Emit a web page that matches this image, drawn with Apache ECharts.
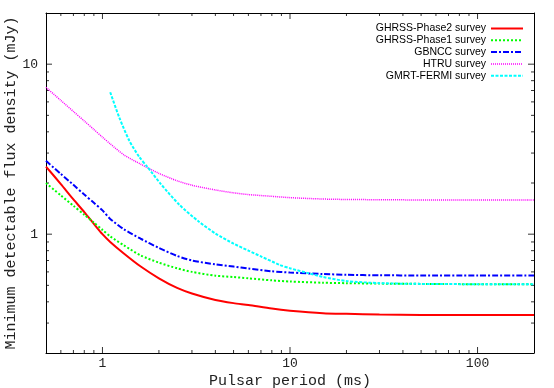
<!DOCTYPE html>
<html>
<head>
<meta charset="utf-8">
<script src="https://cdn.jsdelivr.net/npm/echarts@6/dist/echarts.min.js"></script>
<style>
  html, body { margin: 0; padding: 0; background: #fff; }
  #main { width: 554px; height: 388px; }
</style>
</head>
<body>
<div id="main"></div>
<script>
// pulsar period (ms), shared by the first four surveys
var periods = [0.5, 0.6, 0.7, 0.8, 0.9, 1.0, 1.1, 1.3, 1.6, 2, 2.5, 3, 4, 5, 6, 8, 10, 15, 20, 30, 50, 100, 200];
var ghrss2 = [2.5, 1.97, 1.60, 1.35, 1.15, 1.0, 0.9, 0.77, 0.645, 0.55, 0.483, 0.448, 0.41, 0.393, 0.383, 0.365, 0.355, 0.343, 0.34, 0.337, 0.335, 0.335, 0.335];
var ghrss1 = [2.0, 1.69, 1.47, 1.30, 1.17, 1.06, 0.97, 0.86, 0.75, 0.68, 0.63, 0.60, 0.57, 0.56, 0.55, 0.535, 0.527, 0.518, 0.515, 0.512, 0.51, 0.508, 0.508];
var gbncc = [2.7, 2.26, 1.95, 1.71, 1.53, 1.38, 1.23, 1.07, 0.94, 0.83, 0.745, 0.70, 0.665, 0.645, 0.628, 0.605, 0.595, 0.583, 0.577, 0.573, 0.572, 0.571, 0.571];
var htru = [7.3, 6.12, 5.27, 4.63, 4.13, 3.72, 3.4, 2.93, 2.58, 2.28, 2.06, 1.94, 1.82, 1.75, 1.71, 1.67, 1.64, 1.61, 1.60, 1.595, 1.59, 1.59, 1.59];
// GMRT-FERMI starts later
var fermiPeriods = [1.1, 1.23, 1.39, 1.57, 1.74, 2.05, 2.57, 3.25, 4, 5, 6, 7, 8.8, 10, 12.5, 15, 20, 30, 50, 100, 200];
var fermi = [6.84, 4.85, 3.55, 2.85, 2.48, 1.97, 1.49, 1.19, 1.01, 0.88, 0.80, 0.74, 0.66, 0.63, 0.59, 0.56, 0.53, 0.515, 0.51, 0.508, 0.508];

var seriesNames = ['GHRSS-Phase2 survey', 'GHRSS-Phase1 survey', 'GBNCC survey', 'HTRU survey', 'GMRT-FERMI survey'];

// axis ranges and tick values
var xRange = [0.5, 200];
var yRange = [0.2, 20];
var xMajor = [1, 10, 100];
var xMinor = [0.6, 0.7, 0.8, 0.9, 2, 3, 4, 5, 6, 7, 8, 9, 20, 30, 40, 50, 60, 70, 80, 90];
var yMajor = [1, 10];
var yMinor = [0.3, 0.4, 0.5, 0.6, 0.7, 0.8, 0.9, 2, 3, 4, 5, 6, 7, 8, 9];

// line styles, same order as seriesNames
var styles = [
  { color: '#ff0000', width: 2, type: 'solid' },
  { color: '#00ff00', width: 2, type: [2, 2] },
  { color: '#0000ff', width: 2, type: [6, 2, 2, 2] },
  { color: '#ff00ff', width: 1.5, type: [1, 1] },
  { color: '#00ffff', width: 2, type: [3, 1.5] }
];

var gridBox = { left: 46, right: 20, top: 13, bottom: 35 };

function pairs(xs, ys) {
  var out = [];
  for (var i = 0; i < xs.length; i++) {
    out.push([xs[i], ys[i]]);
  }
  return out;
}

var monoFont = '"Liberation Mono", "DejaVu Sans Mono", monospace';

// log axis; only the bottom / left one carries labels
function logAxis(pos, range, labels, margin) {
  return {
    type: 'log',
    logBase: 10,
    position: pos,
    min: range[0],
    max: range[1],
    axisLine: { show: true, onZero: false, lineStyle: { color: '#000', width: 1 } },
    axisTick: { show: false },
    axisLabel: labels ? {
      show: true, customValues: labels, color: '#222', fontFamily: monoFont, fontSize: 13, margin: margin
    } : { show: false },
    splitLine: { show: false },
    minorTick: { show: false }
  };
}

var xAxes = [logAxis('bottom', xRange, xMajor, 4), logAxis('top', xRange, null, 0)];
xAxes[0].name = 'Pulsar period (ms)';
xAxes[0].nameLocation = 'middle';
xAxes[0].nameGap = 21;
xAxes[0].nameMoveOverlap = false;
xAxes[0].nameTextStyle = { color: '#222', fontFamily: monoFont, fontSize: 15 };

var yAxes = [logAxis('left', yRange, yMajor, 8), logAxis('right', yRange, null, 0)];
yAxes[0].name = 'Minimum detectable flux density (mJy)';
yAxes[0].nameLocation = 'middle';
yAxes[0].nameGap = 27;
yAxes[0].nameMoveOverlap = false;
yAxes[0].nameTextStyle = { color: '#222', fontFamily: monoFont, fontSize: 15 };

function lineSeries(i, data) {
  return {
    name: seriesNames[i],
    type: 'line',
    data: data,
    showSymbol: false,
    symbol: 'none',
    smooth: 0.25,
    lineStyle: styles[i],
    itemStyle: { color: styles[i].color }
  };
}

// inward ticks: small bars centred half a tick inside each edge
var xDecadePx = (554 - gridBox.left - gridBox.right) / Math.log10(xRange[1] / xRange[0]);
var yDecadePx = (388 - gridBox.top - gridBox.bottom) / Math.log10(yRange[1] / yRange[0]);

function tickSeries(values, side, len) {
  var data, size;
  if (side == 'bottom' || side == 'top') {
    var yEdge = side == 'bottom' ? yRange[0] * Math.pow(10, len / 2 / yDecadePx) : yRange[1] / Math.pow(10, len / 2 / yDecadePx);
    data = values.map(function (v) { return [v, yEdge]; });
    size = [1, len];
  } else {
    var xEdge = side == 'left' ? xRange[0] * Math.pow(10, len / 2 / xDecadePx) : xRange[1] / Math.pow(10, len / 2 / xDecadePx);
    data = values.map(function (v) { return [xEdge, v]; });
    size = [len, 1];
  }
  return {
    type: 'scatter',
    data: data,
    symbol: 'rect',
    symbolSize: size,
    itemStyle: { color: '#000' }
  };
}

var legendData = seriesNames.map(function (n, i) {
  return { name: n, lineStyle: styles[i], itemStyle: { opacity: 0 } };
});

var myChart = echarts.init(document.getElementById('main'));

var option = {
  animation: false,
  backgroundColor: '#fff',
  grid: { left: gridBox.left, right: gridBox.right, top: gridBox.top, bottom: gridBox.bottom, containLabel: false, outerBoundsMode: 'none' },
  legend: {
    orient: 'vertical',
    right: 25,
    top: 18,
    align: 'right',
    itemWidth: 32,
    itemHeight: 10,
    itemGap: 0.8,
    itemStyle: { opacity: 0 },
    textStyle: { color: '#000', fontFamily: '"Liberation Sans", Arial, sans-serif', fontSize: 10.5, lineHeight: 10 },
    data: legendData
  },
  xAxis: xAxes,
  yAxis: yAxes,
  series: [
    lineSeries(0, pairs(periods, ghrss2)),
    lineSeries(1, pairs(periods, ghrss1)),
    lineSeries(2, pairs(periods, gbncc)),
    lineSeries(3, pairs(periods, htru)),
    lineSeries(4, pairs(fermiPeriods, fermi)),
    tickSeries(xMajor, 'bottom', 6),
    tickSeries(xMinor, 'bottom', 3),
    tickSeries(xMajor, 'top', 6),
    tickSeries(xMinor, 'top', 3),
    tickSeries(yMajor, 'left', 6),
    tickSeries(yMinor, 'left', 3),
    tickSeries(yMajor, 'right', 6),
    tickSeries(yMinor, 'right', 3)
  ]
};

myChart.setOption(option);
</script>
</body>
</html>
